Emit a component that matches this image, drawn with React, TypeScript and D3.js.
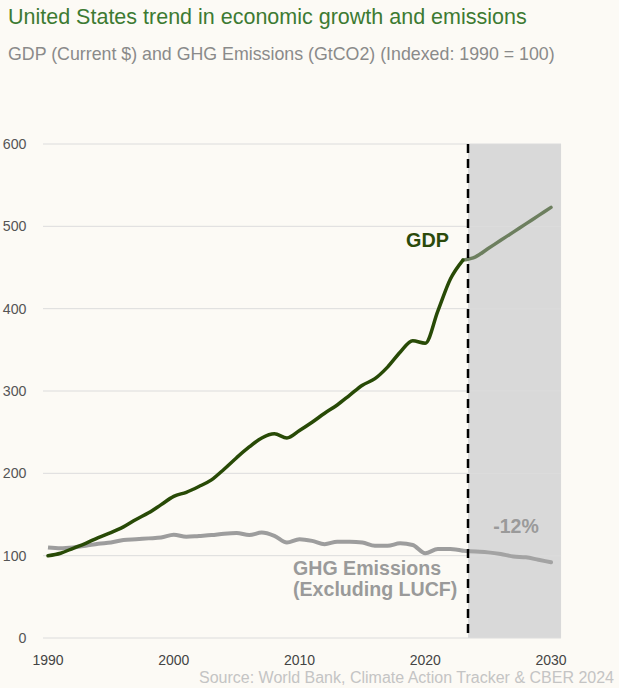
import React from "react";
import * as d3 from "d3";

const years = d3.range(1990, 2024);
const gdpIndex = [100, 103, 109, 115, 122, 128, 135, 144, 152, 162, 172, 177, 184, 192, 205, 219, 232, 243, 248, 243, 252, 262, 273, 283, 295, 307, 315, 329, 347, 361, 358, 397, 436, 459];
const ghgIndex = [110, 109, 110, 112, 114.5, 116, 119, 120, 121, 122, 125.5, 123, 124, 125, 126.7, 127.5, 125, 128, 124, 116, 120, 118, 114, 117, 117, 116, 112, 112, 115, 113, 103, 108, 108, 106];
const projYears = [2023, 2024, 2025, 2026, 2027, 2028, 2029, 2030];
const gdpProj = [459, 463, 473, 483, 493, 503, 513, 523];
const ghgProj = [106, 105, 104, 102, 99, 98, 95, 92];
const yTicks = [0, 100, 200, 300, 400, 500, 600];
const xTicks = [1990, 2000, 2010, 2020, 2030];
const projectionStart = 2023.4;
const domainEnd = 2030.8;

const FONT = "'Liberation Sans', Arial, Helvetica, sans-serif";

export default function App() {
  const W = 619, H = 688;
  const x = d3.scaleLinear().domain([1990, 2030]).range([48, 551]);
  const y = d3.scaleLinear().domain([0, 600]).range([638, 144]);
  const x0 = x(1989.6), x1 = x(domainEnd);

  const line = d3.line<[number, number]>().x(d => x(d[0])).y(d => y(d[1])).curve(d3.curveMonotoneX);
  const gdpHist = line(years.map((yr, i) => [yr, gdpIndex[i]]));
  const ghgHist = line(years.map((yr, i) => [yr, ghgIndex[i]]));
  const gdpP = line(projYears.map((yr, i) => [yr, gdpProj[i]]));
  const ghgP = line(projYears.map((yr, i) => [yr, ghgProj[i]]));

  return (
    <svg width={W} height={H} style={{ position: "absolute", left: 0, top: 0, fontFamily: FONT }}>
      <rect x={0} y={0} width={W} height={H} fill="#fcfaf5" />
      <text x={8} y={23.5} fontSize={21.5} fill="#3d7a32">United States trend in economic growth and emissions</text>
      <text x={8} y={60} fontSize={17.8} fill="#8a8a8a">GDP (Current $) and GHG Emissions (GtCO2) (Indexed: 1990 = 100)</text>

      <rect x={x(projectionStart)} y={y(600)} width={x1 - x(projectionStart)} height={y(0) - y(600)} fill="#d9d9d9" />

      {yTicks.map(t => (
        <g key={t}>
          <line x1={x0} x2={x1} y1={y(t)} y2={y(t)} stroke="#dcdcdc" strokeWidth={1} />
          <text x={26.5} y={y(t)} dy="0.35em" textAnchor="end" fontSize={14.2} fill="#555">{t}</text>
        </g>
      ))}
      {xTicks.map(t => (
        <text key={t} x={x(t)} y={665} textAnchor="middle" fontSize={14} fill="#444">{t}</text>
      ))}

      <path d={ghgHist || ""} fill="none" stroke="#9d9d9d" strokeWidth={4} strokeLinejoin="round" />
      <path d={ghgP || ""} fill="none" stroke="#a3a3a3" strokeWidth={4} strokeLinecap="round" />
      <path d={gdpP || ""} fill="none" stroke="#6d7f5f" strokeWidth={3.5} strokeLinecap="round" />
      <path d={gdpHist || ""} fill="none" stroke="#284a06" strokeWidth={3.5} strokeLinecap="round" />

      <line x1={x(projectionStart)} x2={x(projectionStart)} y1={y(600)} y2={y(0)} stroke="#000" strokeWidth={2.5} strokeDasharray="9,6" />

      <text x={406} y={246.5} fontSize={19.8} fontWeight="bold" fill="#2b4a0b">GDP</text>
      <text x={516} y={532.5} textAnchor="middle" fontSize={19.5} fontWeight="bold" fill="#9a9a9a">-12%</text>
      <text x={293} y={575} fontSize={19.6} fontWeight="bold" fill="#9a9a9a">GHG Emissions</text>
      <text x={293} y={596} fontSize={19.6} fontWeight="bold" fill="#9a9a9a">(Excluding LUCF)</text>

      <text x={614} y={683} textAnchor="end" fontSize={16} fill="#c4c4c4">Source: World Bank, Climate Action Tracker &amp; CBER 2024</text>
    </svg>
  );
}
